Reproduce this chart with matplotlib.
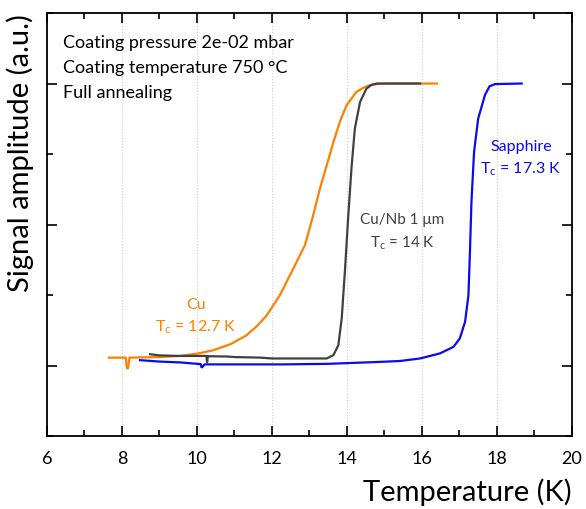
import matplotlib
matplotlib.use("Agg")
import matplotlib.pyplot as plt
from matplotlib.ticker import MultipleLocator, NullFormatter

plt.rcParams['font.family'] = ['Lato', 'DejaVu Sans']

# Cu (orange)
cu_T = [7.65, 8.1, 8.13, 8.16, 8.2, 9.0, 9.55, 10.0, 10.43, 10.9, 11.32, 11.6, 11.86, 12.21, 12.57,
        12.88, 13.10, 13.28, 13.46, 13.64, 13.81, 13.99, 14.25, 14.45, 14.61, 14.8, 15.06, 16.4]
cu_S = [0.028, 0.028, -0.01, -0.01, 0.028, 0.03, 0.034, 0.042, 0.054, 0.076, 0.107, 0.14, 0.178, 0.249, 0.344,
        0.427, 0.533, 0.628, 0.71, 0.793, 0.864, 0.923, 0.97, 0.986, 0.994, 0.998, 1.0, 1.0]

# Cu/Nb 1 um (dark gray)
nb_T = [8.75, 9.0, 9.5, 10.0, 10.25, 10.27, 10.29, 10.8, 11.0, 11.7, 12.0, 13.0, 13.46, 13.64, 13.77,
        13.86, 13.95, 14.03, 14.12, 14.21, 14.35, 14.52, 14.65, 14.79, 15.95]
nb_S = [0.04, 0.036, 0.034, 0.034, 0.034, 0.012, 0.033, 0.032, 0.03, 0.028, 0.025, 0.025, 0.025, 0.037, 0.072,
        0.167, 0.344, 0.521, 0.699, 0.84, 0.935, 0.982, 0.995, 1.0, 1.0]

# Sapphire (blue)
sa_T = [8.48, 9.0, 9.55, 10.1, 10.12, 10.14, 10.2, 10.5, 12.3, 13.5, 14.9, 15.41, 15.95, 16.48, 16.84,
        17.01, 17.15, 17.24, 17.28, 17.32, 17.39, 17.5, 17.68, 17.8, 17.95, 18.66]
sa_S = [0.019, 0.014, 0.011, 0.005, -0.006, -0.006, 0.004, 0.004, 0.004, 0.006, 0.013, 0.016, 0.025, 0.043, 0.066,
        0.096, 0.155, 0.249, 0.403, 0.58, 0.758, 0.876, 0.959, 0.99, 0.998, 1.0]

fig = plt.figure(figsize=(5.86, 5.10), dpi=100)
ax = fig.add_axes([0.0802, 0.1431, 0.8958, 0.8294])

c_cu = '#ff8000'
c_nb = '#404040'
c_sa = '#0a0af0'

ax.plot(cu_T, cu_S, color=c_cu, lw=1.6)
ax.plot(nb_T, nb_S, color=c_nb, lw=1.6)
ax.plot(sa_T, sa_S, color=c_sa, lw=1.6)

ax.set_xlim(6, 20)
ax.set_ylim(-0.25, 1.25)
ax.xaxis.set_major_locator(MultipleLocator(2))
ax.xaxis.set_minor_locator(MultipleLocator(1))
ax.yaxis.set_major_locator(MultipleLocator(0.5))
ax.yaxis.set_minor_locator(MultipleLocator(0.25))
ax.yaxis.set_major_formatter(NullFormatter())
ax.tick_params(which='both', direction='in', top=True, right=True, width=1.2)
ax.tick_params(which='major', length=7, labelsize=13)
ax.tick_params(which='minor', length=4)
ax.tick_params(axis='x', pad=10)
for s in ax.spines.values():
    s.set_linewidth(1.3)
ax.xaxis.grid(True, which='major', color='#cccccc', ls=':', lw=0.8)
ax.set_axisbelow(True)

ax.set_xlabel('Temperature (K)', fontsize=21, loc='right', labelpad=8)
ax.set_ylabel('Signal amplitude (a.u.)', fontsize=21, loc='top', labelpad=6)

ax.text(0.03, 0.95, 'Coating pressure 2e-02 mbar\nCoating temperature 750 °C\nFull annealing',
        transform=ax.transAxes, fontsize=13, va='top', ha='left', linespacing=1.7)

ax.text(9.97, 0.175, 'Cu\nT$_\\mathregular{c}$ = 12.7 K', color=c_cu, fontsize=11.5,
        ha='center', va='center', linespacing=1.5)
ax.text(15.47, 0.475, 'Cu/Nb 1 μm\nT$_\\mathregular{c}$ = 14 K', color=c_nb, fontsize=11,
        ha='center', va='center', linespacing=1.5)
ax.text(18.64, 0.735, 'Sapphire\nT$_\\mathregular{c}$ = 17.3 K', color=c_sa, fontsize=11.5,
        ha='center', va='center', linespacing=1.5)

fig.savefig('out.png', dpi=100)
